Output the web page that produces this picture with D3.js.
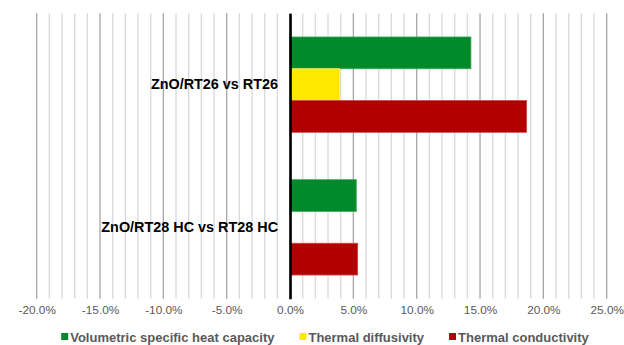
<!DOCTYPE html>
<html>
<head>
<meta charset="utf-8">
<script src="https://cdn.jsdelivr.net/npm/d3@7"></script>
<style>
  html, body { margin: 0; padding: 0; background: #fff; }
  svg { display: block; font-family: "Liberation Sans", Arial, sans-serif; }
</style>
</head>
<body>
<svg id="chart" width="624" height="345"></svg>
<script>
const categories = ["ZnO/RT26 vs RT26", "ZnO/RT28 HC vs RT28 HC"];
const seriesNames = ["Volumetric specific heat capacity", "Thermal diffusivity", "Thermal conductivity"];
const seriesColors = ["#008a29", "#ffe800", "#b20000"];
const seriesStroke = ["#3aa85a", "#fff15a", "#d04848"];
const volumetricHeatCapacity = [0.1428, 0.0523];
const thermalDiffusivity = [0.0392, null];
const thermalConductivity = [0.1868, 0.0534];
const xTicks = [-0.20, -0.15, -0.10, -0.05, 0, 0.05, 0.10, 0.15, 0.20, 0.25];

const seriesValues = [volumetricHeatCapacity, thermalDiffusivity, thermalConductivity];

const svg = d3.select("#chart");
const pLeft = 36.7, pRight = 606.7, pTop = 13.3, pBottom = 298.7;

const x = d3.scaleLinear().domain([-0.20, 0.25]).range([pLeft, pRight]);
const y = d3.scaleBand().domain(categories).range([pTop, pBottom]).padding(0);
const ySub = d3.scaleBand().domain(seriesNames).range([0, y.bandwidth()])
  .paddingInner(0).paddingOuter(0.745);

// gridlines every 1%
const minor = d3.range(-20, 26, 1).map(v => v / 100);
svg.append("g").selectAll("line").data(minor).join("line")
  .attr("x1", d => x(d)).attr("x2", d => x(d))
  .attr("y1", pTop).attr("y2", pBottom)
  .attr("stroke", d => (Math.round(d * 100) % 5 === 0) ? "#a6a6a6" : "#d9d9d9")
  .attr("stroke-width", 1.3);

// bars
const rows = [];
categories.forEach((c, ci) => {
  seriesNames.forEach((s, si) => {
    const v = seriesValues[si][ci];
    if (v !== null && v !== undefined) rows.push({c, s, si, v});
  });
});
svg.append("g").selectAll("rect").data(rows).join("rect")
  .attr("x", d => Math.min(x(0), x(d.v)))
  .attr("width", d => Math.abs(x(d.v) - x(0)))
  .attr("y", d => y(d.c) + ySub(d.s))
  .attr("height", ySub.bandwidth())
  .attr("fill", d => seriesColors[d.si])
  .attr("stroke", d => seriesStroke[d.si])
  .attr("stroke-width", 0.8);

// category axis at zero
const yAxis = svg.append("g")
  .attr("transform", `translate(${x(0)},0)`)
  .call(d3.axisLeft(y).tickSize(0).tickPadding(12));
yAxis.select(".domain").attr("stroke", "#000").attr("stroke-width", 2.6);
yAxis.selectAll("text")
  .attr("font-family", "Liberation Sans, Arial, sans-serif")
  .attr("font-size", "14.4px").attr("font-weight", "bold").attr("fill", "#000");

// x axis labels
const loc = d3.formatLocale({decimal: ".", thousands: ",", grouping: [3], currency: ["$", ""], minus: "-"});
const fmt = loc.format(".1%");
const xAxis = svg.append("g")
  .attr("transform", `translate(0,${pBottom})`)
  .call(d3.axisBottom(x).tickValues(xTicks).tickFormat(fmt).tickSize(0).tickPadding(7));
xAxis.select(".domain").remove();
xAxis.selectAll("text")
  .attr("font-family", "Liberation Sans, Arial, sans-serif")
  .attr("font-size", "11.8px").attr("fill", "#595959");

// legend
const legend = svg.append("g");
const items = legend.selectAll("g").data(seriesNames).join("g");
items.append("rect").attr("width", 7).attr("height", 7).attr("y", -4)
  .attr("fill", (d, i) => seriesColors[i]);
items.append("text").attr("x", 9).attr("dy", "0.35em")
  .attr("font-size", "13px").attr("font-weight", "bold").attr("fill", "#595959")
  .text(d => d);
const widths = [];
items.each(function() { widths.push(this.querySelector("text").getComputedTextLength() + 9); });
const gap = 25;
const total = widths.reduce((a, b) => a + b, 0) + gap * (widths.length - 1);
let cx = 325 - total / 2;
items.attr("transform", (d, i) => {
  const t = `translate(${cx},337)`;
  cx += widths[i] + gap;
  return t;
});
</script>
</body>
</html>
